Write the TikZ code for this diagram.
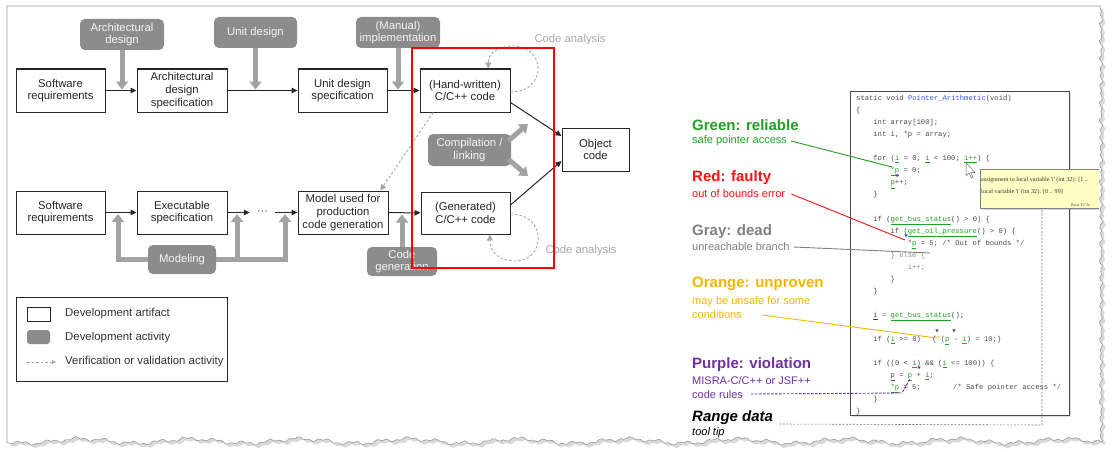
\documentclass[tikz,border=0pt]{standalone}
\usepackage{fontspec}
\setmainfont{Liberation Sans}
\newfontfamily\codefont{Liberation Mono}
\newfontfamily\tipfont{Liberation Serif}
\usetikzlibrary{arrows.meta,calc,shadows}
\definecolor{actgray}{HTML}{8C8C8C}
\definecolor{arrgray}{HTML}{A2A2A2}
\definecolor{vergray}{HTML}{A8A8A8}
\definecolor{okgreen}{HTML}{22A022}
\definecolor{labred}{HTML}{FF1010}
\definecolor{labgray}{HTML}{808080}
\definecolor{laborange}{HTML}{F2B600}
\definecolor{labpurple}{HTML}{7030A0}
\definecolor{codegray}{HTML}{4A4A4A}
\definecolor{fnblue}{HTML}{3355EE}
\definecolor{tipyellow}{HTML}{FFFFC4}
\newcommand\gu[1]{\textcolor{okgreen}{\underline{#1}}}
\newcommand\codeln[4]{\node[codetxt] (#1) at ({856+17.2*#2},{100.5+12.05*#3}) {#4};}
\newcommand\ptri[2]{\fill[labpurple] ({#1-1.6},{#2-1.6}) -- ({#1+1.6},{#2-1.6}) -- (#1,{#2+1.4}) -- cycle;}
\begin{document}
\begin{tikzpicture}[x=1pt,y=-1pt,
  art/.style={draw=black!85, line width=1pt, fill=white, align=center, inner sep=0pt,
    font=\fontsize{11.3}{12.6}\selectfont, text=black!85},
  act/.style={fill=actgray, rounded corners=5pt, align=center, inner sep=0pt,
    font=\fontsize{11.3}{12.6}\selectfont, text=white!92!gray},
  flow/.style={draw=black!85, line width=1pt, -{Triangle[length=6pt,width=5.5pt]}},
  gthick/.style={draw=arrgray, line width=5pt, -{Triangle[length=8pt,width=12pt]}},
  verif/.style={draw=vergray, line width=0.9pt, dash pattern=on 2.5pt off 2pt, -{Triangle[length=6pt,width=6pt]}},
  calabel/.style={text=vergray, inner sep=0pt, font=\fontsize{11.3}{13}\selectfont},
  legtxt/.style={anchor=west, inner sep=0pt, text=black!80, font=\fontsize{11.4}{13}\selectfont},
  codetxt/.style={anchor=base west, inner sep=0pt, text=codegray, font=\codefont\fontsize{7.2}{8}\selectfont},
  hd/.style={anchor=west, inner sep=0pt, font=\bfseries\fontsize{15}{17}\selectfont},
  sb/.style={anchor=west, inner sep=0pt, font=\fontsize{11}{13}\selectfont},
  tiptxt/.style={anchor=base west, inner sep=0pt, text=black!80, font=\tipfont\fontsize{6.1}{7}\selectfont}]
\useasboundingbox (0,0) rectangle (1113,452);
\fill[white] (0,0) rectangle (1113,452);
% torn page
\begin{scope}[shift={(3,3)}]
\fill[black!15] (7,6) -- (1101,6)
  -- plot[domain=6:441,samples=150] ({1101+1.2*sin(41*mod(\x,360))+0.8*sin(23*mod(\x,360)+40)},\x)
  -- plot[domain=1101:7,samples=400] (\x,{441+2.2*sin(3.3*\x)+1.4*sin(13*\x)+1*sin(37*mod(\x,360))}) -- cycle;
\end{scope}
\filldraw[fill=white,draw=black!40,line width=0.6pt] (7,6) -- (1101,6)
  -- plot[domain=6:441,samples=150] ({1101+1.2*sin(41*mod(\x,360))+0.8*sin(23*mod(\x,360)+40)},\x)
  -- plot[domain=1101:7,samples=400] (\x,{441+2.2*sin(3.3*\x)+1.4*sin(13*\x)+1*sin(37*mod(\x,360))}) -- cycle;

% ---------- artifacts ----------
\node[art, minimum width=89pt, minimum height=43pt] (sr1) at (60.5,90.5) {Software\\requirements};
\node[art, minimum width=90pt, minimum height=43pt] (ads) at (182,90.5) {Architectural\\design\\specification};
\node[art, minimum width=89pt, minimum height=43pt] (uds) at (342.5,90.5) {Unit design\\specification};
\node[art, minimum width=90pt, minimum height=43pt] (hw) at (465,90.5) {(Hand-written)\\C/C++ code};
\node[art, minimum width=67pt, minimum height=43pt] (obj) at (595.5,149.5) {Object\\code};
\node[art, minimum width=89pt, minimum height=42pt] (gen) at (465.5,213) {(Generated)\\C/C++ code};
\node[art, minimum width=90pt, minimum height=43pt] (model) at (343,212.5) {Model used for\\production\\code generation};
\node[art, minimum width=90pt, minimum height=43pt] (exe) at (182,212.5) {Executable\\specification};
\node[art, minimum width=89pt, minimum height=43pt] (sr2) at (60.5,212.5) {Software\\requirements};
\node[inner xsep=7pt, inner ysep=0pt, text=black!80, font=\fontsize{11}{13}\selectfont] (dots) at (262.5,212.5) {···};

% ---------- activities ----------
\node[act, minimum width=84pt, minimum height=31pt] (archd) at (122,34.5) {Architectural\\design};
\node[act, minimum width=83pt, minimum height=31pt] (unitd) at (255.5,32.5) {Unit design};
\node[act, minimum width=84pt, minimum height=31pt] (manual) at (398,32.5) {(Manual)\\implementation};
\node[act, minimum width=83pt, minimum height=32pt] (comp) at (469.5,150) {Compilation /\\linking};
\node[act, minimum width=68pt, minimum height=29pt] (modeling) at (182,259.5) {Modeling};
\node[act, minimum width=70pt, minimum height=29pt] (codegen) at (402,261.5) {Code\\generation};

% ---------- flow ----------
\draw[flow] (sr1) -- (ads);
\draw[flow] (ads) -- (uds);
\draw[flow] (uds) -- (hw);
\draw[flow] ([yshift=-12pt]hw.east) -- ([yshift=13.5pt]obj.west);
\draw[flow] ([yshift=8pt]gen.east) -- ([yshift=-11.5pt]obj.west);
\draw[flow] (sr2) -- (exe);
\draw[flow] (exe) -- (dots);
\draw[flow] (dots) -- (model);
\draw[flow] (model) -- (gen);

% ---------- gray activity arrows ----------
\draw[gthick, shorten >=1pt] (archd.south) -- (archd.south |- sr1.east);
\draw[gthick, shorten >=1pt] (unitd.south) -- (unitd.south |- ads.east);
\draw[gthick, shorten >=1pt] (manual.south) -- (manual.south |- uds.east);
\coordinate (mL) at (118,214);
\coordinate (mM) at (237,214);
\coordinate (mR) at (285,214);
\draw[gthick] (modeling.west) -| (mL);
\draw[gthick] (modeling.east) -| (mR);
\draw[gthick] (mM |- modeling.east) -- (mM);
\draw[gthick, shorten >=1.5pt] (codegen.north) -- (codegen.north |- gen.west);
\coordinate (cu) at (528,124);
\coordinate (cd) at (528,176);
\draw[gthick] ([xshift=-3pt,yshift=-7pt]comp.north east) -- (cu);
\draw[gthick] ([xshift=-3pt,yshift=7pt]comp.south east) -- (cd);

% ---------- verification ----------
\draw[verif] ($(hw.south west)!0.15!(hw.south east)$) -- ($(model.north west)!0.91!(model.north east)$);
\draw[verif] ([yshift=-1.5pt]hw.east) .. controls (548,92) and (546,45) .. (512,46)
  .. controls (494,47) and (488,56) .. ($(hw.north west)!0.756!(hw.north east)$);
\draw[verif] ([yshift=-1pt]gen.east) .. controls (548,214) and (546,262) .. (514,261)
  .. controls (496,260) and (490,250) .. ($(gen.south west)!0.77!(gen.south east)$);
\node[calabel] (ca1) at (570,40) {Code analysis};
\node[calabel] (ca2) at (581,251) {Code analysis};

% ---------- red frame ----------
\node[draw=red, line width=2pt, minimum width=142pt, minimum height=220pt, anchor=north west, inner sep=0pt] (redbox) at (411,47) {};

% ---------- legend ----------
\node[draw=black!85, line width=1pt, minimum width=211pt, minimum height=84pt, anchor=north west, inner sep=0pt] (legend) at (16,297) {};
\node[draw=black!85, line width=1pt, minimum width=23pt, minimum height=14pt, inner sep=0pt] (lga) at (38.5,314) {};
\node[fill=actgray, rounded corners=3pt, minimum width=23pt, minimum height=14pt, inner sep=0pt] (lgb) at (38.5,337) {};
\coordinate (lgc1) at (27,362);
\coordinate (lgc2) at (56,362);
\draw[verif, line width=0.7pt, -{Triangle[length=4pt,width=4pt]}] (lgc1) -- (lgc2);
\node[legtxt] (lta) at (65,314) {Development artifact};
\node[legtxt] (ltb) at (65,338) {Development activity};
\node[legtxt] (ltc) at (65,362) {Verification or validation activity};

% ---------- code box ----------
\node[draw=codegray, line width=1pt, fill=white, minimum width=219pt, minimum height=324pt, anchor=north west, inner sep=0pt,
  drop shadow={opacity=0.25, shadow xshift=1.5pt, shadow yshift=-1.5pt}] (codebox) at (850,91) {};
\codeln{c0}{0}{0}{static void \textcolor{fnblue}{Pointer\_Arithmetic}(void)}
\codeln{c1}{0}{1}{\{}
\codeln{c2}{1}{2}{int array[100];}
\codeln{c3}{1}{3}{int i, *p = array;}
\codeln{c5}{1}{5}{for (\gu{i} = 0; \gu{i} < 100; \gu{i++}) \{}
\codeln{c6}{2}{6}{\gu{*p} = 0;}
\codeln{c7}{2}{7}{\gu{p}++;}
\codeln{c8}{1}{8}{\}}
\codeln{c10}{1}{10}{if (\gu{get\_bus\_status}() > 0) \{}
\codeln{c11}{2}{11}{if (\gu{get\_oil\_pressure}() > 0) \{}
\codeln{c12}{3}{12}{\textcolor{red}{*}\gu{p} = 5; /* Out of bounds */}
\codeln{c13}{2}{13}{\textcolor{black!45}{\} else \{}}
\codeln{c14}{3}{14}{\textcolor{black!45}{i++;}}
\codeln{c15}{2}{15}{\}}
\codeln{c16}{1}{16}{\}}
\codeln{c18}{1}{18}{\underline{i} = \gu{get\_bus\_status}();}
\codeln{c20}{1}{20}{if (\gu{i} >= 0)}
\node[codetxt] (c20b) at (932,{100.5+12.05*20}) {\{\textcolor{laborange}{*}(\gu{p} - \gu{i}) = 10;\}};
\codeln{c22}{1}{22}{if ((0 < \gu{i}) \&\& (\gu{i} <= 100)) \{}
\codeln{c23}{2}{23}{\underline{p} = \gu{p} + \gu{i};}
\codeln{c24}{2}{24}{\gu{*p} = 5;}
\node[codetxt] (c24b) at (953,{100.5+12.05*24}) {/* Safe pointer access */};
\codeln{c25}{1}{25}{\}}
\codeln{c26}{0}{26}{\}}
\ptri{897}{176}
\ptri{906}{236}
\ptri{937}{331}
\ptri{954}{331}
\ptri{919}{368}

% ---------- tooltip ----------
\begin{scope}
\clip (0,0) rectangle (1099,452);
\node[draw=black!50, line width=0.5pt, fill=tipyellow, minimum width=122pt, minimum height=39pt, anchor=north west, inner sep=0pt,
  drop shadow={opacity=0.3, shadow xshift=1.5pt, shadow yshift=-1.5pt}] (tip) at (980,169) {};
\node[tiptxt] (tip1) at (981,181) {assignment to local variable 'i' (int 32): [1 ..};
\node[tiptxt] (tip2) at (981,193) {local variable 'i' (int 32): [0 .. 99]};
\node[tiptxt, font=\tipfont\fontsize{3.8}{4}\selectfont] (tip3) at (1071,206) {Press 'F2' fo};
\end{scope}
\filldraw[fill=white, draw=black!55, line width=0.5pt] (966,163) -- (966,176) -- (969,173) -- (971.5,178) -- (973,177.3) -- (970.8,172.6) -- (975,172.6) -- cycle;

% ---------- labels ----------
\node[hd, text=okgreen] (gh) at (692,125) {Green: reliable};
\node[sb, text=okgreen] (gs) at (692,141) {safe pointer access};
\node[hd, text=labred] (rh) at (692,178) {Red: faulty};
\node[sb, text=labred] (rs) at (692,194) {out of bounds error};
\node[hd, text=labgray] (dh) at (692,232) {Gray: dead};
\node[sb, text=labgray] (ds) at (692,247) {unreachable branch};
\node[hd, text=laborange] (oh) at (692,284) {Orange: unproven};
\node[sb, text=laborange] (os1) at (692,302) {may be unsafe for some};
\node[sb, text=laborange] (os2) at (692,315) {conditions};
\node[hd, text=labpurple] (ph) at (692,365) {Purple: violation};
\node[sb, text=labpurple] (ps1) at (692,381) {MISRA-C/C++ or JSF++};
\node[sb, text=labpurple] (ps2) at (692,395) {code rules};
\node[hd, text=black, font=\bfseries\itshape\fontsize{15}{17}\selectfont] (tdh) at (692,418) {Range data};
\node[sb, text=black, font=\itshape\fontsize{11}{13}\selectfont] (tds) at (692,433) {tool tip};

% ---------- label connectors ----------
\coordinate (gtip) at (892,167);
\coordinate (rtip) at (905,240);
\coordinate (dtip) at (930,253);
\coordinate (otip) at (937,338);
\coordinate (pc1) at (902,393);
\coordinate (ptip) at (910,379);
\coordinate (rc) at (1042,425);
\draw[okgreen, line width=0.9pt] ([xshift=4pt]gs.east) -- (gtip);
\draw[labred, line width=0.9pt] ([xshift=6pt]rs.east) -- (rtip);
\draw[labgray, line width=0.9pt] ([xshift=4pt]ds.east) -- (dtip);
\draw[laborange, line width=0.9pt] ([xshift=20pt]os2.east) -- (otip);
\draw[labpurple, line width=0.9pt, dash pattern=on 2.5pt off 1.5pt] ([xshift=8pt,yshift=1pt]ps2.east) -- (pc1) -- (ptip);
\draw[black!55, line width=0.6pt, dash pattern=on 2pt off 1.5pt] ([xshift=6pt,yshift=-6pt]tdh.east) -- (rc) -- (rc |- tip.south);
\end{tikzpicture}
\end{document}
